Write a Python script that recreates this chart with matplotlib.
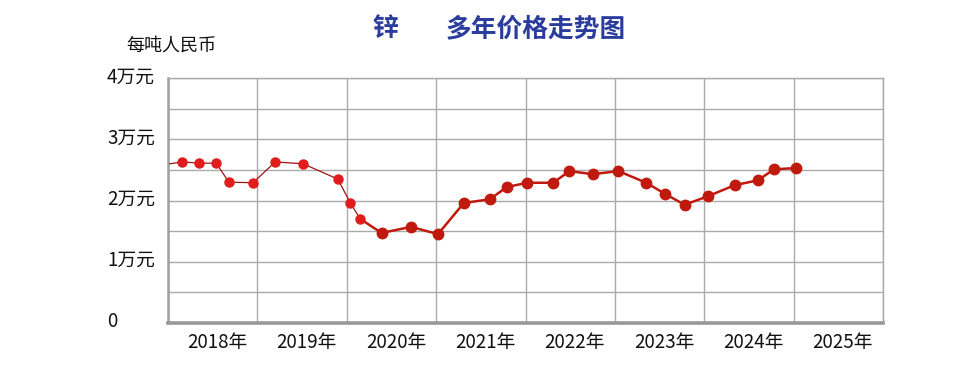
import matplotlib.pyplot as plt

plt.rcParams['font.family'] = ['Noto Sans CJK SC', 'DejaVu Sans']

# 锌价（万元/吨），x 为年份小数
x_early = [2018.02, 2018.16, 2018.35, 2018.54, 2018.68, 2018.95, 2019.20, 2019.51, 2019.90, 2020.04, 2020.15]
y_early = [2.60, 2.63, 2.61, 2.61, 2.30, 2.29, 2.63, 2.60, 2.35, 1.96, 1.70]
x_late = [2020.15, 2020.39, 2020.72, 2021.02, 2021.31, 2021.60, 2021.79, 2022.02, 2022.31, 2022.49,
          2022.75, 2023.04, 2023.35, 2023.56, 2023.78, 2024.04, 2024.34, 2024.60, 2024.78, 2025.03]
y_late = [1.70, 1.47, 1.57, 1.45, 1.96, 2.02, 2.22, 2.29, 2.29, 2.48,
          2.43, 2.48, 2.29, 2.11, 1.93, 2.07, 2.25, 2.33, 2.51, 2.53]

years = [2018, 2019, 2020, 2021, 2022, 2023, 2024, 2025]
year_labels = [f"{y}年" for y in years]
y_ticks = [0, 1, 2, 3, 4]
y_labels = ["0", "1万元", "2万元", "3万元", "4万元"]

fig = plt.figure(figsize=(9.78, 3.92), dpi=100)
ax = fig.add_axes([0.1718, 0.176, 0.7311, 0.625])

# 前段：细线 + 亮红点
ax.plot(x_early, y_early, color="#9e1410", lw=0.9, zorder=3)
ax.plot(x_early[1:], y_early[1:], ls="none", marker="o", ms=6.5, color="#e01c1c", zorder=4)
# 后段：粗线 + 深红点
ax.plot(x_late, y_late, color="#c01a0e", lw=1.8, zorder=3)
ax.plot(x_late[1:], y_late[1:], ls="none", marker="o", ms=7.5, color="#c01a0e", zorder=4)

ax.set_xlim(2018, 2026)
ax.set_ylim(0, 4)
ax.set_xticks(range(2018, 2027))
ax.set_xticklabels([])
ax.set_yticks([i * 0.5 for i in range(9)])
ax.set_yticklabels([])
ax.grid(True, color="#aaaaaa", lw=1)
ax.tick_params(length=0)

for y, lab in zip(years, year_labels):
    ax.text(y + 0.55, -0.32, lab, ha="center", va="center", fontsize=13.5, color="#111111")
for v, lab in zip(y_ticks, y_labels):
    ax.text(-61 / 715, v + 0.02, lab, transform=ax.get_yaxis_transform(), ha="left", va="center",
            fontsize=13.5, color="#111111")

for s in ["top", "right"]:
    ax.spines[s].set_color("#aaaaaa")
    ax.spines[s].set_linewidth(1)
ax.spines["left"].set_color("#a0a0a0")
ax.spines["left"].set_linewidth(1.8)
ax.spines["bottom"].set_color("#999999")
ax.spines["bottom"].set_linewidth(2.6)

fig.text(126 / 978, 1 - 46 / 392, "每吨人民币", ha="left", va="center", fontsize=13, color="#111111")
fig.text(372 / 978, 1 - 29 / 392, "锌", ha="left", va="center", fontsize=18.5, color="#2a3c9c",
         fontweight="bold")
fig.text(446 / 978, 1 - 29 / 392, "多年价格走势图", ha="left", va="center", fontsize=18.5,
         color="#2a3c9c", fontweight="bold")

fig.savefig("out.png", dpi=100)
